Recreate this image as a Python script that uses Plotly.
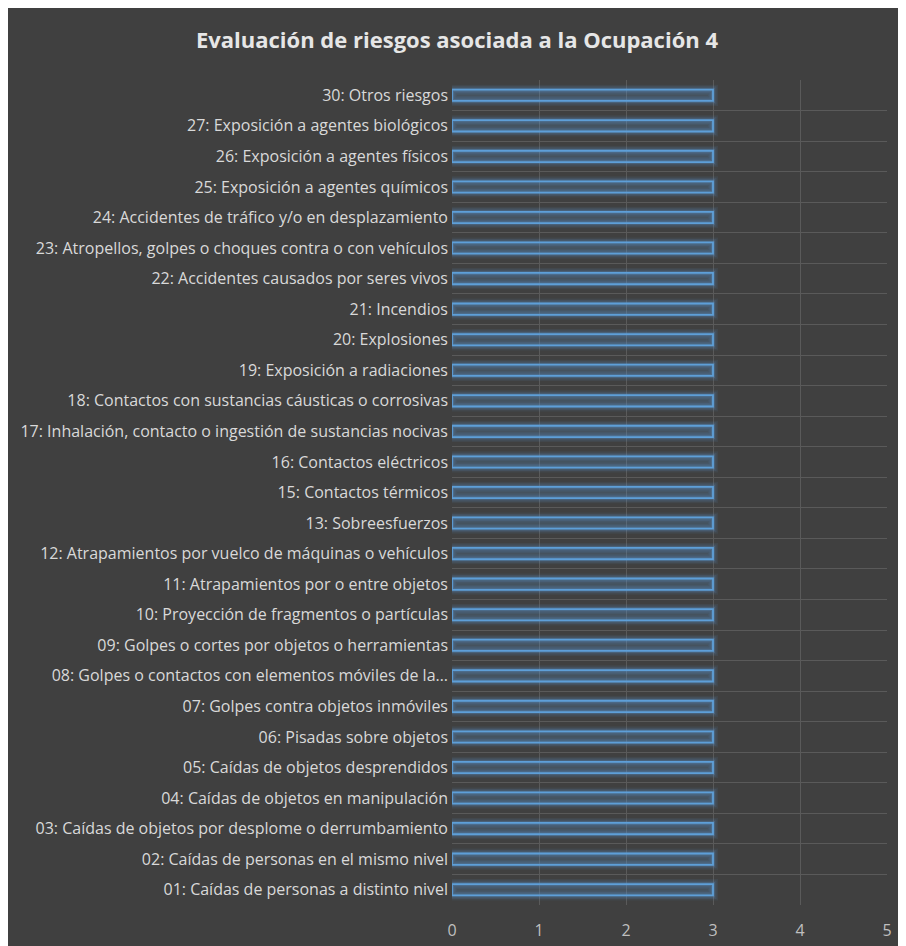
import plotly.graph_objects as go

categories = [
    "01: Caídas de personas a distinto nivel",
    "02: Caídas de personas en el mismo nivel",
    "03: Caídas de objetos por desplome o derrumbamiento",
    "04: Caídas de objetos en manipulación",
    "05: Caídas de objetos desprendidos",
    "06: Pisadas sobre objetos",
    "07: Golpes contra objetos inmóviles",
    "08: Golpes o contactos con elementos móviles de la…",
    "09: Golpes o cortes por objetos o herramientas",
    "10: Proyección de fragmentos o partículas",
    "11: Atrapamientos por o entre objetos",
    "12: Atrapamientos por vuelco de máquinas o vehículos",
    "13: Sobreesfuerzos",
    "15: Contactos térmicos",
    "16: Contactos eléctricos",
    "17: Inhalación, contacto o ingestión de sustancias nocivas",
    "18: Contactos con sustancias cáusticas o corrosivas",
    "19: Exposición a radiaciones",
    "20: Explosiones",
    "21: Incendios",
    "22: Accidentes causados por seres vivos",
    "23: Atropellos, golpes o choques contra o con vehículos",
    "24: Accidentes de tráfico y/o en desplazamiento",
    "25: Exposición a agentes químicos",
    "26: Exposición a agentes físicos",
    "27: Exposición a agentes biológicos",
    "30: Otros riesgos",
]
values = [3] * len(categories)
x_ticks = [0, 1, 2, 3, 4, 5]

positions = list(range(len(categories)))

W, H = 898, 938
L, R, T, B = 444, 19, 72, 41

fig = go.Figure()

# glow layers
for lw, col in [(10, "rgba(91,155,213,0.08)"), (7, "rgba(91,155,213,0.13)"), (4, "rgba(91,155,213,0.22)")]:
    fig.add_trace(go.Bar(
        x=values, y=positions, orientation="h", width=0.37,
        marker=dict(color="rgba(0,0,0,0)", line=dict(color=col, width=lw)),
        hoverinfo="skip", showlegend=False,
    ))

fig.add_trace(go.Bar(
    x=values, y=positions, orientation="h", width=0.37,
    marker=dict(color="rgba(91,155,213,0.2)", line=dict(color="#5e9fd8", width=1.8)),
    showlegend=False,
))

dark = "#404040"

fig.update_layout(
    width=W, height=H,
    margin=dict(l=L, r=R, t=T, b=B),
    paper_bgcolor=dark,
    plot_bgcolor=dark,
    barmode="overlay",
    font=dict(family="Open Sans", color="#d9d9d9", size=16),
    title=dict(
        text="<b>Evaluación de riesgos asociada a la Ocupación 4</b>",
        x=0.5, xref="container", xanchor="center",
        y=1 - 32 / H, yref="container", yanchor="middle",
        font=dict(family="Open Sans", size=22, color="#e6e6e6"),
    ),
    xaxis=dict(
        range=[0, 5], tickvals=x_ticks, ticktext=[str(t) for t in x_ticks],
        showgrid=True, gridcolor="#5a5a5a", gridwidth=1,
        zeroline=False, showline=False, ticks="",
        tickfont=dict(color="#bfbfbf", size=16),
        ticklabelstandoff=14, automargin=False,
    ),
    yaxis=dict(
        range=[-0.5, len(categories) - 0.5],
        tickvals=positions, ticktext=categories,
        showgrid=False, zeroline=False, showline=False, ticks="",
        ticklabelstandoff=3, automargin=False,
        tickfont=dict(color="#d9d9d9", size=16),
        minor=dict(tick0=0.5, dtick=1, showgrid=True, gridcolor="#5a5a5a", gridwidth=1, ticks=""),
    ),
)

fig.write_html("out.html")
